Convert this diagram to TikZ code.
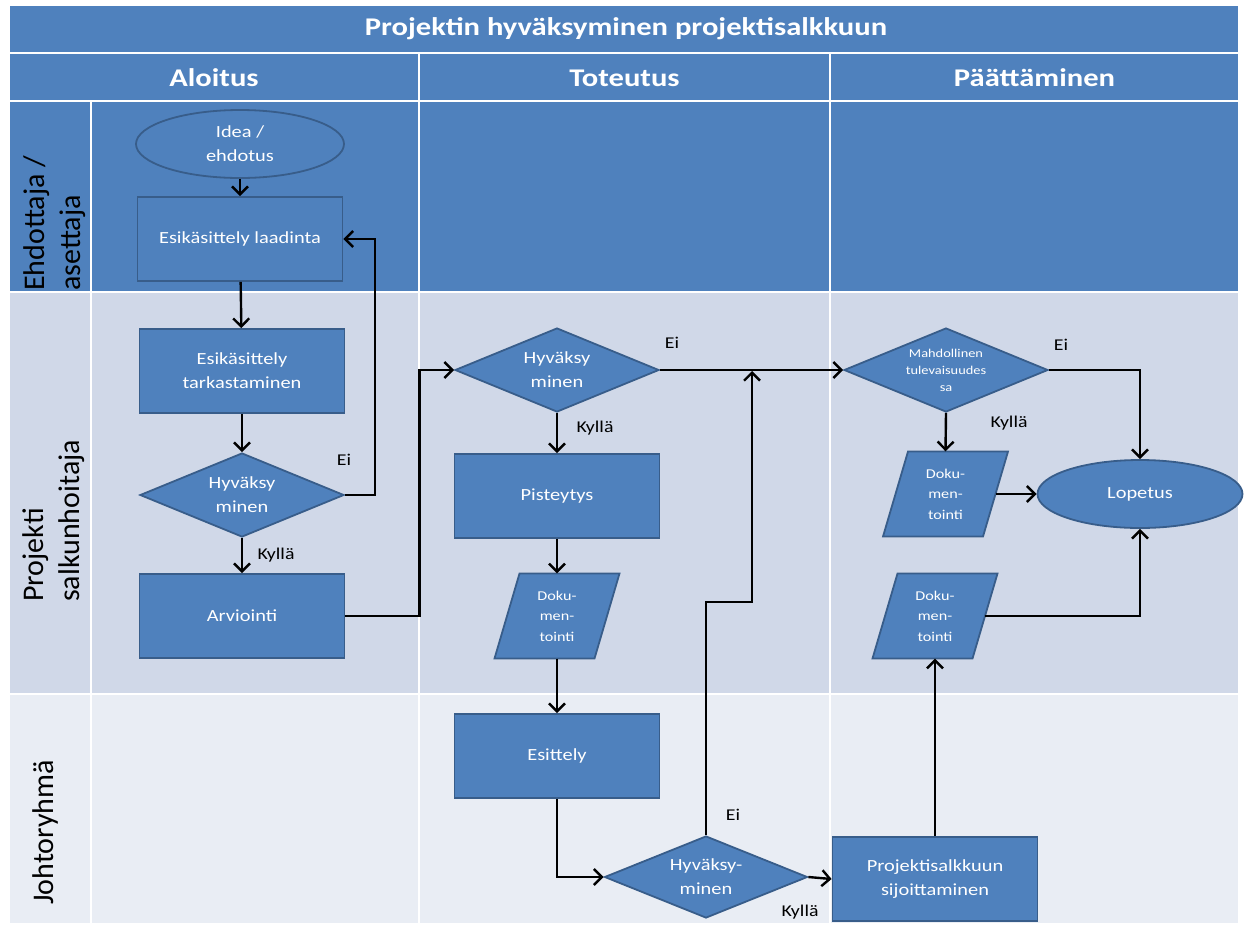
\documentclass[tikz,border=0pt]{standalone}
\usepackage{fontspec}
\setmainfont{Carlito}
\newfontfamily\widefont{Carlito}[FakeStretch=1.2]
\usetikzlibrary{shapes.geometric,arrows.meta}

\definecolor{hdrblue}{HTML}{4F81BD}
\definecolor{nodeedge}{HTML}{385D8A}
\definecolor{lanemid}{HTML}{D0D8E8}
\definecolor{lanelow}{HTML}{E9EDF4}

% parallelogram "document" symbol: name, x, y, text
\newcommand{\docpara}[4]{%
  \filldraw[docfill] (#2-37.5,#3-42.5) -- (#2+62.5,#3-42.5)
    -- (#2+37.5,#3+42.5) -- (#2-62.5,#3+42.5) -- cycle;
  \node[doctext] (#1) at (#2,#3) {#4};
}

\begin{document}
\begin{tikzpicture}[x=1pt,y=-1pt,
  cellband/.style={draw=white,line width=2.4pt},
  hdrtext/.style={text=white,inner sep=0pt,font=\widefont\bfseries\fontsize{25.5}{30}\selectfont},
  lanetext/.style={rotate=90,anchor=west,align=left,inner sep=0pt,text=black,
    font=\fontsize{30}{36}\selectfont},
  box/.style={rectangle,fill=hdrblue,draw=nodeedge,line width=1.8pt,text=white,
    align=center,font=\widefont\fontsize{17}{24}\selectfont,
    minimum width=205pt,minimum height=84pt,inner sep=0pt},
  oval/.style={box,ellipse,minimum width=208pt,minimum height=68pt},
  decision/.style={box,diamond,aspect=2.4,minimum width=204pt,minimum height=84pt},
  doctext/.style={rectangle,text=white,align=center,inner sep=0pt,
    font=\widefont\fontsize{13.5}{20.5}\selectfont,
    minimum width=100pt,minimum height=85pt},
  docfill/.style={fill=hdrblue,draw=nodeedge,line width=1.8pt},
  flow/.style={draw=black,line width=2.4pt,-{Straight Barb[length=8pt,width=16pt]}},
  answer/.style={text=black,inner sep=0pt,font=\widefont\fontsize{16.5}{20}\selectfont}
]
\useasboundingbox (0,0) rectangle (1246,927);
\fill[white] (0,0) rectangle (1246,927);

% title and phase headers
\path[cellband,fill=hdrblue] (9,5) rectangle (1239,53);
\path[cellband,fill=hdrblue] (9,53) rectangle (419,101);
\path[cellband,fill=hdrblue] (419,53) rectangle (830,101);
\path[cellband,fill=hdrblue] (830,53) rectangle (1239,101);
\node[hdrtext] (title) at (626,29) {Projektin hyväksyminen projektisalkkuun};
\node[hdrtext] (hAloitus) at (214,78) {Aloitus};
\node[hdrtext] (hToteutus) at (624.5,78) {Toteutus};
\node[hdrtext] (hPaattaminen) at (1034.5,78) {Päättäminen};

% swimlanes
\foreach \ya/\yb/\col in {101/292/hdrblue, 292/694/lanemid, 694/924/lanelow}{
  \path[cellband,fill=\col] (9,\ya) rectangle (91,\yb);
  \path[cellband,fill=\col] (91,\ya) rectangle (419,\yb);
  \path[cellband,fill=\col] (419,\ya) rectangle (830,\yb);
  \path[cellband,fill=\col] (830,\ya) rectangle (1239,\yb);
}
\node[lanetext] (laneA) at (55,291) {Ehdottaja /\\asettaja};
\node[lanetext] (laneB) at (54,602) {Projekti\\salkunhoitaja};
\node[lanetext] (laneC) at (46,905) {Johtoryhmä};

% Aloitus
\node[oval] (idea) at (240,144) {Idea /\\ehdotus};
\node[box] (laad) at (240,239) {Esikäsittely laadinta};
\node[box] (tark) at (242,371) {Esikäsittely\\tarkastaminen};
\node[decision] (dia1) at (242,495) {Hyväksy\\minen};
\node[box] (arv) at (242,616) {Arviointi};

% Toteutus
\node[decision] (dia2) at (557,370) {Hyväksy\\minen};
\node[box] (pist) at (557,496) {Pisteytys};
\docpara{doc1}{557}{616}{Doku-\\men-\\tointi}
\node[box] (esit) at (557,756) {Esittely};
\node[decision,minimum width=203pt,minimum height=82pt] (dia4) at (706,877) {Hyväksy-\\minen};

% Päättäminen
\node[decision,font=\widefont\fontsize{12}{17}\selectfont] (dia3) at (946,370)
  {Mahdollinen\\tulevaisuudes\\sa};
\docpara{doc3}{945.5}{494}{Doku-\\men-\\tointi}
\node[oval,minimum width=205pt] (lop) at (1140,494) {Lopetus};
\docpara{doc2}{935}{616}{Doku-\\men-\\tointi}
\node[box] (proj) at (935,879) {Projektisalkkuun\\sijoittaminen};

% connectors
\draw[flow] (idea) -- (laad);
\draw[flow] (laad) -- (tark);
\draw[flow] (tark) -- (dia1);
\draw[flow] (dia1.east) -- ++(30,0) |- (laad.east);
\draw[flow] (dia1) -- (arv);
\draw[flow] (arv.east) -- ++(74,0) |- (dia2.west);
\draw[flow] (dia2.east) -- (dia3.west);
\draw[flow] (dia2) -- (pist);
\draw[flow] (pist) -- (doc1);
\draw[flow] (doc1) -- (esit);
\draw[flow] (esit.south) |- (dia4.west);
\coordinate (merge) at (752,371);
\draw[flow] (dia4.north) -- ++(0,-233) -| (merge);
\draw[flow] (dia4.east) -- (proj.west);
\draw[flow] (proj.north) -- (doc2.south);
\draw[flow] (dia3.east) -| (lop.north);
\draw[flow] (dia3.south) -- (doc3.north);
\draw[flow] (doc3.east) -- (lop.west);
\draw[flow] (doc2.east) -| (lop.south);

% branch labels
\node[answer] (ei1) at (344,460) {Ei};
\node[answer] (ky1) at (276,555) {Kyllä};
\node[answer] (ei2) at (672,343) {Ei};
\node[answer] (ky2) at (595,428) {Kyllä};
\node[answer] (ei3) at (1061,345) {Ei};
\node[answer] (ky3) at (1009,423) {Kyllä};
\node[answer] (ei4) at (733,815) {Ei};
\node[answer] (ky4) at (800,912) {Kyllä};
\end{tikzpicture}
\end{document}
